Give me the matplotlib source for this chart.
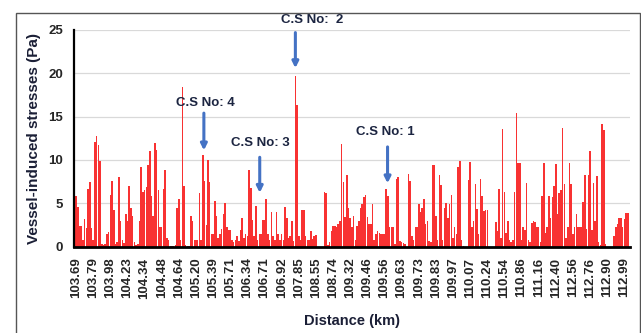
import matplotlib
matplotlib.use("Agg")
import matplotlib.pyplot as plt
from matplotlib.patches import Rectangle

plt.rcParams['font.family'] = ['Liberation Sans', 'DejaVu Sans']

# vessel-induced stress per chainage point (Pa), 10 bars per labelled step
stress_pa = [
    5.8, 4.6, 2.4, 2.4, 0.8, 3.2, 2.1, 6.6, 7.5, 2.1,
    0.8, 12.1, 12.8, 11.7, 9.9, 0.3, 0.2, 0.3, 1.5, 1.7,
    6.0, 7.6, 4.2, 0.3, 0.5, 8.0, 2.9, 0.8, 0.4, 3.8,
    2.9, 7.0, 4.4, 3.5, 0.5, 0.2, 0.3, 2.9, 9.2, 6.3,
    6.5, 6.9, 9.4, 11.0, 5.8, 3.5, 11.9, 11.1, 6.5, 2.3,
    2.3, 6.6, 8.8, 1.0, 0.8, 0.1, 0.1, 0.1, 0.2, 4.4,
    5.5, 0.8, 18.4, 7.0, 0.2, 0.1, 0.1, 3.5, 2.9, 0.8,
    0.8, 0.8, 6.2, 0.8, 10.6, 7.6, 2.5, 10.0, 7.5, 1.5,
    1.5, 5.2, 3.5, 1.0, 1.5, 2.0, 3.8, 5.0, 2.3, 1.9,
    1.9, 0.8, 0.5, 0.8, 1.2, 0.6, 1.9, 3.3, 1.0, 1.5,
    1.2, 8.8, 6.7, 3.1, 1.2, 4.7, 0.8, 1.5, 1.5, 3.1,
    3.1, 5.5, 1.5, 0.8, 4.0, 1.2, 0.8, 4.0, 1.5, 0.8,
    1.5, 0.8, 4.6, 3.3, 1.0, 1.2, 3.0, 0.6, 19.7, 16.3,
    1.2, 0.8, 4.2, 4.2, 1.2, 0.8, 0.8, 1.8, 0.9, 1.2,
    1.3, 0.0, 0.0, 0.0, 0.0, 6.3, 6.2, 0.2, 0.5, 1.8,
    2.4, 2.4, 2.3, 2.6, 3.0, 11.8, 7.5, 3.4, 8.3, 4.5,
    3.3, 2.2, 3.5, 0.8, 2.4, 2.9, 4.5, 4.9, 5.7, 6.0,
    3.4, 2.6, 2.6, 4.9, 0.8, 1.4, 1.8, 1.6, 1.5, 1.5,
    1.5, 6.6, 5.8, 2.2, 2.2, 2.2, 0.3, 7.8, 8.0, 0.6,
    0.5, 0.4, 0.3, 0.0, 8.4, 7.6, 1.2, 0.8, 2.2, 2.2,
    4.9, 4.0, 4.5, 5.5, 2.6, 3.0, 0.6, 0.5, 9.4, 9.4,
    3.5, 0.8, 8.3, 7.1, 0.8, 4.5, 5.0, 3.3, 4.9, 6.0,
    1.0, 2.2, 1.5, 9.2, 9.9, 0.8, 0.1, 0.0, 0.0, 7.7,
    9.8, 2.2, 3.0, 7.2, 4.3, 1.5, 7.8, 5.8, 4.1, 4.2,
    4.2, 0.0, 0.0, 0.0, 0.0, 2.8, 1.8, 6.6, 1.0, 13.6,
    6.3, 1.6, 3.0, 0.8, 0.5, 0.7, 6.3, 15.4, 9.6, 9.6,
    0.8, 2.3, 1.9, 7.3, 0.8, 0.5, 2.7, 2.9, 2.8, 2.2,
    2.2, 0.5, 5.8, 9.6, 1.6, 2.2, 5.8, 3.3, 5.7, 7.0,
    9.5, 3.7, 6.2, 6.5, 13.7, 7.2, 1.0, 2.2, 9.6, 7.2,
    1.5, 2.2, 3.8, 2.2, 2.2, 2.3, 5.1, 8.2, 2.0, 8.2,
    11.0, 1.9, 7.3, 2.9, 8.1, 0.5, 0.2, 14.2, 13.5, 0.3,
    0.0, 0.0, 0.0, 0.0, 1.2, 2.2, 2.6, 3.3, 3.3, 2.2,
    3.2, 3.9, 3.9,
]

distance_labels = [
    '103.69', '103.79', '103.98', '104.23', '104.34', '104.48', '104.64',
    '105.20', '105.39', '105.71', '106.34', '106.71', '106.92', '107.85',
    '108.55', '108.74', '109.32', '109.46', '109.56', '109.63', '109.73',
    '109.83', '109.97', '110.07', '110.24', '110.54', '110.86', '111.16',
    '112.40', '112.56', '112.76', '112.90', '112.99',
]
label_step = 10

# cross-section callouts: text, text pos, arrow tail, arrow tip (bar index, Pa)
cs_names = ['C.S No: 4', 'C.S No:  2', 'C.S No: 3', 'C.S No: 1']
cs_text_xy = [(75.5, 16.55), (138, 26.1), (107.8, 11.9), (180.7, 13.2)]
cs_tail_xy = [(74.6, 15.4), (128.0, 24.7), (107.2, 10.3), (181.8, 11.5)]
cs_tip_xy = [(74.6, 11.1), (128.0, 20.6), (107.2, 6.2), (181.8, 7.3)]

fig = plt.figure(figsize=(6.41, 3.33), dpi=100)
ax = fig.add_axes([74 / 641, 86.5 / 333, 556 / 641, 216.5 / 333])

x = list(range(len(stress_pa)))
ax.bar(x, stress_pa, width=0.9, color='#f83232', edgecolor='none', zorder=2)

ax.set_xlim(-1.2, len(stress_pa) + 0.3)
ax.set_ylim(0, 25)
ax.set_yticks([0, 5, 10, 15, 20, 25])
ax.yaxis.grid(True, color='#d9d9d9', linewidth=0.9, zorder=0)
ax.set_axisbelow(True)

ticks = list(range(0, len(stress_pa), label_step))[:len(distance_labels)]
ax.set_xticks(ticks)
ax.set_xticklabels(distance_labels, rotation=90, fontsize=9.5,
                   fontweight='bold', color='#262626')
for t in ax.get_yticklabels():
    t.set_fontsize(9.5)
    t.set_fontweight('bold')
    t.set_color('#262626')
ax.tick_params(axis='both', length=0)
ax.tick_params(axis='x', pad=8)
ax.tick_params(axis='y', pad=8)

for s in ['top', 'right']:
    ax.spines[s].set_visible(False)
ax.spines['left'].set_linewidth(1.6)
ax.spines['bottom'].set_linewidth(2.0)
ax.spines['left'].set_zorder(3)
ax.spines['bottom'].set_zorder(3)

ax.set_ylabel('Vessel-induced stresses (Pa)', fontsize=11, fontweight='bold',
              color='#1b1f36', labelpad=5)
ax.set_xlabel('Distance (km)', fontsize=10.5, fontweight='bold',
              color='#1b1f36', labelpad=11)

for name, txy, tail, tip in zip(cs_names, cs_text_xy, cs_tail_xy, cs_tip_xy):
    ax.text(txy[0], txy[1], name, ha='center', va='center', fontsize=9.5,
            fontweight='bold', color='#1c2541', clip_on=False)
    ax.annotate('', xy=tip, xytext=tail,
                arrowprops=dict(arrowstyle='-|>', color='#4472c4', lw=2.2,
                                mutation_scale=9, shrinkA=0, shrinkB=0),
                annotation_clip=False)

# outer frame of the original figure
frame = Rectangle((16 / 641, -0.05), (640 - 16) / 641, 1.05 - 13 / 333,
                  transform=fig.transFigure, fill=False, edgecolor='#555555',
                  linewidth=1.0, clip_on=False)
fig.patches.append(frame)

fig.savefig('out.png', dpi=100, facecolor='white')
